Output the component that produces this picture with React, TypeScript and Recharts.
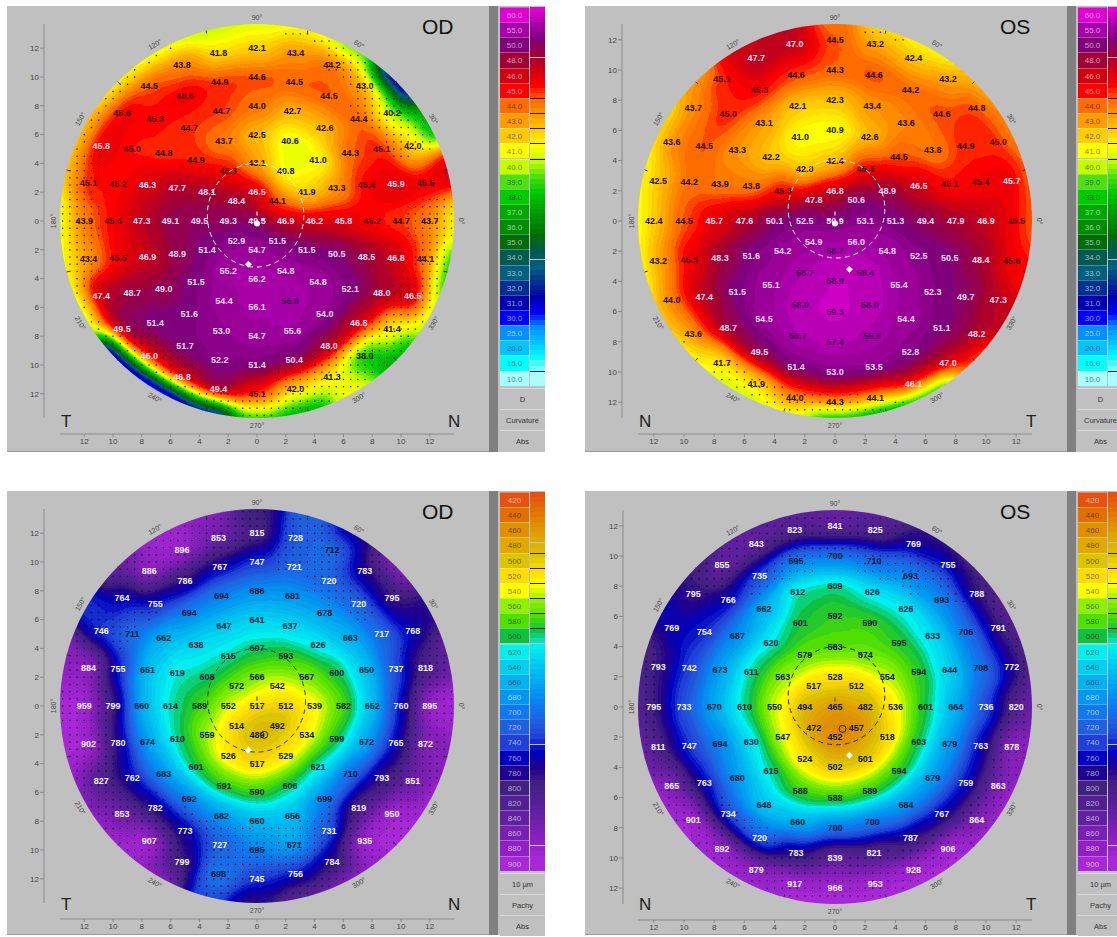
import React from "react";
import { ScatterChart, Scatter, XAxis, YAxis, ReferenceLine } from "recharts";

const FONT = '"Liberation Sans", Arial, sans-serif';

const AXIS_TICKS = [-12, -10, -8, -6, -4, -2, 0, 2, 4, 6, 8, 10, 12];
const RING_RADII = [2, 4, 6, 8, 10, 12];
const DEGREE_LABELS = [0, 30, 60, 90, 120, 150, 180, 210, 240, 270, 300, 330];
const RIM_TICKS = [15, 45, 75, 105, 135, 165, 195, 225, 255, 285, 315, 345];

// legend, top to bottom
const CURV_STOPS = [60, 55, 50, 48, 46, 45, 44, 43, 42, 41, 40, 39, 38, 37, 36, 35, 34, 33, 32, 31, 30, 25, 20, 15, 10];
const CURV_COLORS = [
  "#e000d0", "#a800a8", "#80007c", "#a00038", "#d00010", "#ff0000", "#ff6c00", "#ff9c00", "#ffcc00", "#ffff00",
  "#c4ff00", "#50e010", "#00cc00", "#00a800", "#008c00", "#006c08", "#005a50", "#006080", "#003090", "#0000b0",
  "#0000ff", "#0090ff", "#00c4ff", "#00ffff", "#a8ffff",
];
const PACHY_STOPS = [420, 440, 460, 480, 500, 520, 540, 560, 580, 600, 620, 640, 660, 680, 700, 720, 740, 760, 780, 800, 820, 840, 860, 880, 900];
const PACHY_COLORS = [
  "#e85010", "#e07000", "#e09000", "#e0a800", "#dcc400", "#ffdd00", "#ffff00", "#90f000", "#50e000", "#10c040",
  "#00f0f0", "#00d0f0", "#00b4f0", "#0098f0", "#1078f0", "#2060e0", "#2040d8", "#0000c0", "#200090", "#402080",
  "#502090", "#6020a0", "#7820b0", "#9020c4", "#a828d8",
];

// each ring runs counter clockwise from 0 deg
const OD_CURV_CENTER = 49.5;
const OD_CURV_RINGS = [
  [46.9, 44.1, 46.5, 48.4, 49.3, 52.9, 54.7, 51.5],
  [46.2, 41.9, 40.8, 43.1, 45.3, 48.1, 49.5, 51.4, 55.2, 56.2, 54.8, 51.5],
  [45.8, 43.3, 41.0, 40.6, 42.5, 43.7, 44.9, 47.7, 49.1, 48.9, 51.5, 54.4, 56.1, 56.6, 54.8, 50.5],
  [45.2, 45.4, 44.3, 42.6, 42.7, 44.0, 44.7, 44.7, 44.8, 46.3, 47.3, 46.9, 49.0, 51.6, 53.0, 54.7, 55.6, 54.0, 52.1, 48.5],
  [44.7, 45.9, 45.1, 44.4, 44.5, 44.5, 44.6, 44.9, 45.6, 45.3, 45.0, 45.2, 45.4, 45.5, 48.7, 51.4, 51.7, 52.2, 51.4, 50.4, 48.0, 46.8, 48.0, 46.8],
  [43.7, 45.5, 42.0, 40.2, 43.0, 44.2, 43.4, 42.1, 41.8, 43.8, 44.5, 45.6, 45.8, 45.1, 43.9, 43.4, 47.4, 49.5, 46.0, 46.8, 49.4, 45.1, 42.0, 41.3, 38.0, 41.4, 46.5, 44.1],
];
const OD_CURV_RIM = [41, 46, 37, 28, 39, 41, 40.5, 40, 40.5, 41, 42, 42, 40.5, 41, 40, 20, 15, 28, 38, 37, 41, 37, 40, 38];
const OD_CURV_DOTS = [10.5, 13.5, 10.5, 10, 11.5, 13, 14, 14, 13.3, 13, 13, 11.5, 11, 11.5, 13, 10.5, 10, 11.5, 12, 10.5, 9.5, 10, 10.5, 11];

const OS_CURV_CENTER = 50.9;
const OS_CURV_RINGS = [
  [53.1, 50.6, 46.8, 47.8, 52.5, 54.9, 56.7, 56.0],
  [51.3, 48.9, 45.4, 42.4, 42.0, 45.3, 50.1, 54.2, 56.7, 58.9, 58.4, 54.8],
  [49.4, 46.5, 44.5, 42.6, 40.9, 41.0, 42.2, 43.8, 47.6, 51.6, 55.1, 58.0, 59.3, 58.0, 55.4, 52.5],
  [47.9, 45.1, 43.8, 43.6, 43.4, 42.3, 42.1, 43.1, 43.3, 43.9, 45.7, 48.3, 51.5, 54.5, 56.7, 57.4, 56.5, 54.4, 52.3, 50.5],
  [46.9, 45.4, 44.9, 44.6, 44.2, 44.6, 44.3, 44.6, 45.3, 45.0, 44.5, 44.2, 44.5, 45.5, 47.4, 48.7, 49.5, 51.4, 53.0, 53.5, 52.8, 51.1, 49.7, 48.4],
  [45.5, 45.7, 45.0, 44.8, 43.2, 42.4, 43.2, 44.5, 47.0, 47.7, 45.1, 43.7, 43.6, 42.5, 42.4, 43.2, 44.0, 43.6, 41.7, 41.9, 44.0, 44.3, 44.1, 46.1, 47.0, 48.2, 47.3, 45.6],
];
const OS_CURV_RIM = [44, 44, 43.5, 42.5, 41, 41.5, 44, 47, 46, 43, 41.5, 41, 40.7, 41, 42, 41, 40, 40.5, 37, 36, 37, 44, 47, 45];
const OS_CURV_DOTS = [14, 14, 14, 13.5, 13, 12.5, 13, 14, 14, 14, 14, 14, 14, 14, 13.5, 12.8, 11.5, 11.5, 11.5, 12.5, 13, 13, 14, 14];

const OD_PACHY_CENTER = 517;
const OD_PACHY_RINGS = [
  [512, 542, 566, 572, 552, 514, 489, 492],
  [539, 567, 593, 607, 615, 608, 589, 559, 526, 517, 529, 534],
  [582, 600, 626, 637, 641, 647, 638, 619, 614, 610, 601, 591, 590, 606, 621, 599],
  [652, 650, 663, 678, 681, 686, 694, 694, 662, 651, 660, 674, 683, 692, 682, 660, 656, 699, 710, 672],
  [760, 737, 717, 720, 720, 721, 747, 767, 786, 755, 711, 755, 799, 780, 762, 782, 773, 727, 695, 671, 731, 819, 793, 765],
  [895, 818, 768, 795, 783, 712, 728, 815, 853, 896, 886, 764, 746, 884, 959, 902, 827, 853, 907, 799, 698, 745, 756, 784, 935, 950, 851, 872],
];
const OD_PACHY_RIM = [920, 850, 790, 880, 780, 720, 800, 880, 900, 850, 750, 880, 950, 920, 880, 900, 880, 740, 800, 850, 880, 920, 900, 880];
const OD_PACHY_DOTS = [10.5, 10.5, 12, 9, 8.5, 9.5, 10.5, 10, 9.5, 9.5, 10, 11, 10.5, 10.5, 10, 9, 8.5, 8.5, 8.5, 8.5, 8.5, 9, 10, 10.5];

const OS_PACHY_CENTER = 465;
const OS_PACHY_RINGS = [
  [482, 512, 528, 517, 494, 472, 452, 457],
  [536, 554, 574, 583, 579, 563, 550, 547, 524, 502, 501, 518],
  [601, 594, 595, 590, 592, 601, 620, 611, 610, 630, 615, 588, 588, 589, 594, 603],
  [664, 644, 633, 626, 626, 609, 612, 662, 687, 673, 670, 694, 680, 648, 660, 700, 700, 684, 679, 679],
  [736, 708, 706, 693, 693, 710, 700, 695, 735, 766, 754, 742, 733, 747, 763, 734, 720, 783, 839, 821, 787, 767, 759, 763],
  [820, 772, 791, 788, 755, 769, 825, 841, 823, 843, 855, 795, 769, 793, 795, 811, 865, 901, 892, 879, 917, 966, 953, 928, 906, 864, 863, 878],
];
const OS_PACHY_RIM = [860, 830, 840, 820, 800, 840, 850, 840, 840, 800, 770, 820, 840, 860, 900, 920, 920, 950, 960, 950, 930, 920, 900, 880];
const OS_PACHY_DOTS = [11, 12, 12, 10.5, 9, 9, 10, 9, 9, 10, 12.5, 12, 12, 11, 10, 9.5, 9, 9.5, 10, 10, 10.5, 11, 11, 11];

const rad = (deg: number) => (deg * Math.PI) / 180;
const polar = (r: number, deg: number) => ({ x: r * Math.cos(rad(deg)), y: r * Math.sin(rad(deg)) });

const hexToRgb = (h: string) => [1, 3, 5].map((i) => parseInt(h.slice(i, i + 2), 16));
const mix = (a: string, b: string, t: number) => {
  const ca = hexToRgb(a);
  const cb = hexToRgb(b);
  return ca.map((c, i) => Math.round(c + (cb[i] - c) * t));
};

// ascending stops + colours => a lookup for the field and the feFunc tables
function makeScale(stops: number[], colors: string[]) {
  const order = stops.map((s, i) => [s, i]).sort((a, b) => a[0] - b[0]);
  const s = order.map((o) => o[0]);
  const c = order.map((o) => colors[o[1]]);
  const bands: number[][] = [];
  for (let i = 0; i < c.length - 1; i++) {
    for (let j = 0; j < 3; j++) bands.push(mix(c[i], c[i + 1], j / 3));
  }
  bands.push(hexToRgb(c[c.length - 1]));
  const pos = (v: number) => {
    if (v <= s[0]) return 0;
    for (let i = 0; i < s.length - 1; i++) {
      if (v < s[i + 1]) return i + (v - s[i]) / (s[i + 1] - s[i]);
    }
    return s.length - 1;
  };
  const gray = (v: number) => Math.round(((pos(v) * 3 + 0.02) / bands.length) * 255);
  const table = (ch: number) => bands.map((b) => (b[ch] / 255).toFixed(3)).join(" ");
  return { gray, table, bands };
}

const CURV_SCALE = makeScale(CURV_STOPS, CURV_COLORS);
const PACHY_SCALE = makeScale(PACHY_STOPS, PACHY_COLORS);

function buildCells(center: number, rings: number[][], rim: number[], edge: number) {
  const cells: any[] = [{ x: 0, y: 0, v: center, r: 0, ri: 0, ro: 1, a0: 0, a1: 360 }];
  rings.forEach((ring, k) => {
    const r = RING_RADII[k];
    const step = 360 / ring.length;
    ring.forEach((v, i) => {
      const a = i * step;
      cells.push({ ...polar(r, a), v, r, a, ri: r - 1, ro: r === 12 ? edge : r + 1, a0: a - step / 2, a1: a + step / 2 });
    });
  });
  rim.forEach((v, i) => {
    const a = i * 15;
    cells.push({ ...polar(13.5, a), v, r: 13.5, a, ri: edge, ro: 19, a0: a - 7.5, a1: a + 7.5 });
  });
  return cells;
}

function buildDots(edges: number[], discR: number) {
  const dots: any[] = [];
  for (let i = -28; i <= 28; i++) {
    for (let j = -28; j <= 28; j++) {
      const x = i * 0.5;
      const y = j * 0.5;
      const r = Math.hypot(x, y);
      const a = (Math.atan2(y, x) * 180) / Math.PI;
      const idx = ((Math.round(a / 15) % 24) + 24) % 24;
      if (r < discR - 0.1 && r > edges[idx]) dots.push({ x, y });
    }
  }
  return dots;
}

const curvLabelColor = (v: number) => (v >= 56.5 ? "#4a0a5a" : v >= 45.7 ? "#f4dcf4" : v >= 45 ? "#500808" : "#201000");
const pachyLabelColor = (v: number) => (v >= 715 ? "#f2f2ff" : "#081838");

const PANELS = [
  {
    id: "a", eye: "OD", leftLetter: "T", rightLetter: "N", left: 7, top: 6, h: 446, x0: 257, y0: 221, k: 14.4, axisX: 44, axisY: 434,
    center: OD_CURV_CENTER, rings: OD_CURV_RINGS, rim: OD_CURV_RIM, dotEdges: OD_CURV_DOTS, scale: CURV_SCALE,
    labelColor: curvLabelColor, fmt: (v: number) => v.toFixed(1), pupil: { x: -0.1, y: 0.4, rx: 3.35, ry: 3.6 }, pupilColor: "#ffffff",
    diamond: { x: -0.6, y: -3 }, ring: null, white: true, stops: CURV_STOPS, colors: CURV_COLORS, foot: ["D", "Curvature", "Abs"],
  },
  {
    id: "b", eye: "OS", leftLetter: "N", rightLetter: "T", left: 585, top: 6, h: 446, x0: 835, y0: 221, k: 15.1, axisX: 622, axisY: 434,
    center: OS_CURV_CENTER, rings: OS_CURV_RINGS, rim: OS_CURV_RIM, dotEdges: OS_CURV_DOTS, scale: CURV_SCALE,
    labelColor: curvLabelColor, fmt: (v: number) => v.toFixed(1), pupil: { x: 0.1, y: 0.8, rx: 3.2, ry: 3.25 }, pupilColor: "#ffffff",
    diamond: { x: 0.95, y: -3.2 }, ring: null, white: true, stops: CURV_STOPS, colors: CURV_COLORS, foot: ["D", "Curvature", "Abs"],
  },
  {
    id: "c", eye: "OD", leftLetter: "T", rightLetter: "N", left: 7, top: 491, h: 444, x0: 257, y0: 706, k: 14.4, axisX: 44, axisY: 919,
    center: OD_PACHY_CENTER, rings: OD_PACHY_RINGS, rim: OD_PACHY_RIM, dotEdges: OD_PACHY_DOTS, scale: PACHY_SCALE,
    labelColor: pachyLabelColor, fmt: (v: number) => String(v), pupil: { x: -0.03, y: 0.4, rx: 3.4, ry: 3.6 }, pupilColor: "#3a3a3a",
    diamond: { x: -0.6, y: -3.05 }, ring: { x: 0.5, y: -2 }, white: false, stops: PACHY_STOPS, colors: PACHY_COLORS, foot: ["10 µm", "Pachy", "Abs"],
  },
  {
    id: "d", eye: "OS", leftLetter: "N", rightLetter: "T", left: 585, top: 491, h: 444, x0: 835, y0: 707, k: 15.1, axisX: 623, axisY: 920,
    center: OS_PACHY_CENTER, rings: OS_PACHY_RINGS, rim: OS_PACHY_RIM, dotEdges: OS_PACHY_DOTS, scale: PACHY_SCALE,
    labelColor: pachyLabelColor, fmt: (v: number) => String(v), pupil: { x: 0.1, y: 0.75, rx: 3.2, ry: 3.25 }, pupilColor: "#222222",
    diamond: { x: 0.95, y: -3.2 }, ring: { x: 0.5, y: -1.45 }, white: false, stops: PACHY_STOPS, colors: PACHY_COLORS, foot: ["10 µm", "Pachy", "Abs"],
  },
];

const PANEL_W = 482;
const DISC_PX = 197;

function TopoPanel({ p }: { p: any }) {
  const chartH = p.h;
  const xDomain = [(p.axisX - p.x0) / p.k, (p.left + PANEL_W - p.x0) / p.k];
  const yDomain = [(p.y0 - p.axisY) / p.k, (p.y0 - p.top) / p.k];
  const discR = DISC_PX / p.k;
  const cells = buildCells(p.center, p.rings, p.rim, Math.max(12.6, discR - 0.7));
  const labels = cells.filter((c) => c.r <= 12);
  const dots = buildDots(p.dotEdges, discR);
  const k = p.k;

  const cellShape = (props: any) => {
    const { cx, cy, payload: c } = props;
    const fill = `rgb(${p.scale.gray(c.v)},${p.scale.gray(c.v)},${p.scale.gray(c.v)})`;
    if (c.r === 0) return <circle cx={cx} cy={cy} r={k} fill={fill} />;
    const ox = cx - c.r * Math.cos(rad(c.a)) * k;
    const oy = cy + c.r * Math.sin(rad(c.a)) * k;
    const pt = (r: number, a: number) => `${(ox + r * k * Math.cos(rad(a))).toFixed(2)} ${(oy - r * k * Math.sin(rad(a))).toFixed(2)}`;
    const d = `M${pt(c.ri, c.a0)} L${pt(c.ro, c.a0)} A${c.ro * k} ${c.ro * k} 0 0 0 ${pt(c.ro, c.a1)} L${pt(c.ri, c.a1)} A${c.ri * k} ${c.ri * k} 0 0 1 ${pt(c.ri, c.a0)} Z`;
    return <path d={d} fill={fill} stroke={fill} strokeWidth={1} />;
  };

  const dotShape = (props: any) => <rect x={props.cx - 0.6} y={props.cy - 0.6} width={1.3} height={1.3} fill="#111" />;

  const labelShape = (props: any) => (
    <text x={props.cx} y={props.cy + 3} textAnchor="middle" fontFamily={FONT} fontSize={9} fontWeight="bold" fill={p.labelColor(props.payload.v)}>
      {p.fmt(props.payload.v)}
    </text>
  );

  const degreeShape = (props: any) => {
    const d = props.payload.deg;
    const rot = 90 - d < -90 ? 270 - d : 90 - d;
    return (
      <g transform={`translate(${props.cx},${props.cy}) rotate(${rot})`}>
        <text y={2.5} textAnchor="middle" fontFamily={FONT} fontSize={7} fill="#444">{`${d}°`}</text>
      </g>
    );
  };

  const rimTickShape = (props: any) => {
    const a = rad(props.payload.deg);
    return <line x1={props.cx} y1={props.cy} x2={props.cx + 3 * Math.cos(a)} y2={props.cy - 3 * Math.sin(a)} stroke="#333" strokeWidth={1} />;
  };

  const pupilShape = (props: any) => (
    <ellipse cx={props.cx} cy={props.cy} rx={p.pupil.rx * k} ry={p.pupil.ry * k} fill="none" stroke={p.pupilColor} strokeWidth={1} strokeDasharray="5 4" />
  );

  const diamondShape = (props: any) => (
    <path d={`M${props.cx} ${props.cy - 3.5} L${props.cx + 3.5} ${props.cy} L${props.cx} ${props.cy + 3.5} L${props.cx - 3.5} ${props.cy} Z`} fill="#fff" />
  );

  const ringShape = (props: any) => <circle cx={props.cx} cy={props.cy} r={3.5} fill="none" stroke="#222" strokeWidth={1} />;

  const centerShape = (props: any) => {
    const { cx, cy } = props;
    const col = p.white ? "#fff" : "#333";
    return (
      <g stroke={col} strokeWidth={1}>
        <line x1={cx} y1={cy - 8} x2={cx} y2={cy - 4} />
        {p.white && <line x1={cx - 8} y1={cy} x2={cx - 4} y2={cy} />}
        {p.white && <line x1={cx + 4} y1={cy} x2={cx + 8} y2={cy} />}
        {p.white && <circle cx={cx} cy={cy + 4} r={3} fill="#fff" stroke="none" />}
      </g>
    );
  };

  return (
    <div style={{ position: "absolute", left: p.left, top: p.top, width: PANEL_W, height: p.h, background: "#c0c0c0", borderBottom: "1px solid #9a9a9a", boxSizing: "border-box" }}>
      <ScatterChart width={PANEL_W} height={chartH} margin={{ top: 0, right: 0, bottom: 0, left: 0 }}>
        <XAxis
          type="number"
          dataKey="x"
          domain={xDomain}
          ticks={AXIS_TICKS}
          interval={0}
          axisLine={false}
          height={p.top + p.h - p.axisY}
          tick={{ fontSize: 8, fill: "#444", fontFamily: FONT }}
          tickLine={{ stroke: "#888" }}
          tickSize={3}
          tickMargin={1}
          tickFormatter={(v: number) => String(Math.abs(v))}
        />
        <YAxis
          type="number"
          dataKey="y"
          domain={yDomain}
          ticks={AXIS_TICKS}
          interval={0}
          axisLine={false}
          width={p.axisX - p.left}
          tick={{ fontSize: 8, fill: "#444", fontFamily: FONT }}
          tickLine={{ stroke: "#888" }}
          tickSize={4}
          tickMargin={1}
          tickFormatter={(v: number) => String(Math.abs(v))}
        />
        <ReferenceLine segment={[{ x: xDomain[0], y: -discR }, { x: xDomain[0], y: discR }]} stroke="#a6a6a6" strokeWidth={2} />
        <ReferenceLine segment={[{ x: -discR, y: yDomain[0] }, { x: discR, y: yDomain[0] }]} stroke="#a6a6a6" strokeWidth={2} />
        <Scatter className={`field-${p.id}`} data={cells} shape={cellShape} isAnimationActive={false} />
        <Scatter data={dots} shape={dotShape} isAnimationActive={false} />
        <Scatter data={RIM_TICKS.map((deg) => ({ ...polar(discR - 0.2, deg), deg }))} shape={rimTickShape} isAnimationActive={false} />
        <Scatter data={DEGREE_LABELS.map((deg) => ({ ...polar((DISC_PX + 7) / k, deg), deg }))} shape={degreeShape} isAnimationActive={false} />
        <Scatter data={labels} shape={labelShape} isAnimationActive={false} />
        <Scatter data={[p.pupil]} shape={pupilShape} isAnimationActive={false} />
        <Scatter data={[{ x: 0, y: 0.1 }]} shape={centerShape} isAnimationActive={false} />
        <Scatter data={[p.diamond]} shape={diamondShape} isAnimationActive={false} />
        {p.ring && <Scatter data={[p.ring]} shape={ringShape} isAnimationActive={false} />}
      </ScatterChart>
      <div style={{ position: "absolute", left: p.x0 + 181 - p.left - 16, top: 9, fontFamily: FONT, fontSize: 21, color: "#111" }}>{p.eye}</div>
      <div style={{ position: "absolute", left: 54, top: p.h - 40, fontFamily: FONT, fontSize: 17, color: "#222" }}>{p.leftLetter}</div>
      <div style={{ position: "absolute", left: p.x0 + 197 - p.left - 6, top: p.h - 40, fontFamily: FONT, fontSize: 17, color: "#222" }}>{p.rightLetter}</div>
    </div>
  );
}

function ColorKey({ p }: { p: any }) {
  const left = p.left + PANEL_W;
  const step = 15.15;
  const boxTop = 1;
  const curv = p.id === "a" || p.id === "b";
  const lined = curv ? [6, 7, 8, 9, 10, 24] : [4, 5, 6, 7, 8, 9];
  const textColor = (hex: string) => {
    const [r, g, b] = hexToRgb(hex);
    return 0.3 * r + 0.59 * g + 0.11 * b > 120 ? "rgba(0,0,0,0.55)" : "rgba(255,255,255,0.6)";
  };
  return (
    <div style={{ position: "absolute", left, top: p.top, width: 60, height: p.h }}>
      <div style={{ position: "absolute", left: 0, top: 0, width: 9, height: p.h, background: "#808080" }} />
      <div style={{ position: "absolute", left: 9, top: 0, width: 47, height: p.h, background: "#c0c0c0" }} />
      {p.stops.map((s: number, i: number) => (
        <React.Fragment key={s}>
          <div
            style={{
              position: "absolute", left: 11, top: boxTop + i * step, width: 29, height: step, boxSizing: "border-box",
              background: p.colors[i], borderTop: "1px solid rgba(255,255,255,0.3)", textAlign: "center",
              fontFamily: FONT, fontSize: 8, lineHeight: `${step}px`, color: textColor(p.colors[i]),
            }}
          >
            {curv ? s.toFixed(1) : s}
          </div>
          {[0, 1, 2].map((j) => {
            const next = p.colors[i + 1] ?? p.colors[i];
            const c = mix(p.colors[i], next, j / 3);
            return (
              <div
                key={j}
                style={{
                  position: "absolute", left: 41, top: boxTop + i * step + (j * step) / 3, width: 15, height: step / 3, boxSizing: "border-box",
                  background: `rgb(${c.join(",")})`, borderTop: lined.includes(i) && j === 0 ? "1px solid #222" : undefined,
                }}
              />
            );
          })}
        </React.Fragment>
      ))}
      {p.foot.map((t: string, i: number) => (
        <div
          key={t}
          style={{
            position: "absolute", left: 11, top: boxTop + 25 * step + 2 + i * 21, width: 45, height: 21, boxSizing: "border-box",
            borderTop: "1px solid #d8d8d8", background: "#c0c0c0", textAlign: "center", fontFamily: FONT, fontSize: 7.5, lineHeight: "21px", color: "#333",
          }}
        >
          {t}
        </div>
      ))}
    </div>
  );
}

export default function App() {
  return (
    <div style={{ position: "absolute", left: 0, top: 0, width: 1117, height: 937, overflow: "hidden", background: "#fff" }}>
      <svg width={0} height={0} style={{ position: "absolute" }}>
        <defs>
          {PANELS.map((p) => (
            <React.Fragment key={p.id}>
              <filter id={`ramp-${p.id}`} filterUnits="userSpaceOnUse" x={0} y={0} width={PANEL_W} height={p.h} colorInterpolationFilters="sRGB">
                <feGaussianBlur stdDeviation={10} />
                <feComponentTransfer>
                  <feFuncR type="discrete" tableValues={p.scale.table(0)} />
                  <feFuncG type="discrete" tableValues={p.scale.table(1)} />
                  <feFuncB type="discrete" tableValues={p.scale.table(2)} />
                </feComponentTransfer>
                <feGaussianBlur stdDeviation={0.7} />
              </filter>
              <clipPath id={`disc-${p.id}`}>
                <circle cx={p.x0 - p.left} cy={p.y0 - p.top} r={DISC_PX} />
              </clipPath>
            </React.Fragment>
          ))}
        </defs>
      </svg>
      <style>
        {PANELS.map((p) => `.field-${p.id}{filter:url(#ramp-${p.id});clip-path:url(#disc-${p.id});}`).join("\n")}
      </style>
      {PANELS.map((p) => (
        <TopoPanel key={p.id} p={p} />
      ))}
      {PANELS.map((p) => (
        <ColorKey key={p.id} p={p} />
      ))}
    </div>
  );
}
